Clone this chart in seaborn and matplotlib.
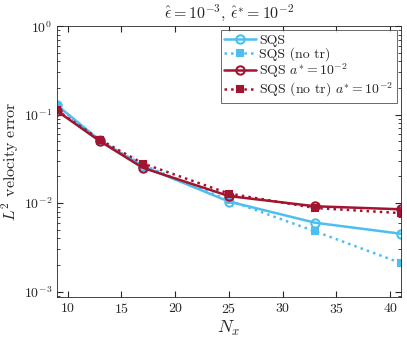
import numpy as np
import pandas as pd
import seaborn as sns
import matplotlib
matplotlib.use("Agg")
import matplotlib.pyplot as plt
from matplotlib.ticker import LogLocator, NullFormatter, FixedLocator

nx = [9, 13, 17, 25, 33, 41]
sqs = [0.128, 0.051, 0.026, 0.0104, 0.0060, 0.0045]
sqs_notr = [0.126, 0.050, 0.027, 0.0107, 0.0048, 0.0021]
sqs_a = [0.110, 0.050, 0.025, 0.0120, 0.0092, 0.0085]
sqs_notr_a = [0.112, 0.052, 0.028, 0.0128, 0.0088, 0.0077]

labels = [
    "SQS",
    "SQS (no tr)",
    r"SQS $a^{*}=10^{-2}$",
    r"SQS (no tr) $a^{*}=10^{-2}$",
]
series = [sqs, sqs_notr, sqs_a, sqs_notr_a]

blue = "#4DBEEE"
red = "#A2142F"
colors = [blue, blue, red, red]
styles = ["-", ":", "-", ":"]
markers = ["o", "s", "o", "s"]

df = pd.concat(
    [pd.DataFrame({"Nx": nx, "err": vals, "label": lab}) for lab, vals in zip(labels, series)]
)

sns.set_style("ticks")
plt.rcParams["font.family"] = "serif"
plt.rcParams["font.serif"] = ["cmr10", "DejaVu Serif"]
plt.rcParams["mathtext.fontset"] = "cm"
plt.rcParams["axes.formatter.use_mathtext"] = True
plt.rcParams["axes.unicode_minus"] = False

fig, ax = plt.subplots(figsize=(4.07, 3.44), dpi=100)

for lab, col, ls, mk in zip(labels, colors, styles, markers):
    sub = df[df["label"] == lab]
    sns.lineplot(
        data=sub, x="Nx", y="err", ax=ax, color=col, linestyle=ls, linewidth=1.8,
        marker=mk, markersize=6 if mk == "o" else 5,
        markerfacecolor="none" if mk == "o" else col,
        markeredgecolor=col, markeredgewidth=1.5, label=lab,
    )

ax.set_yscale("log")
ax.set_xlim(9, 41)
ax.set_ylim(8.7e-4, 1)
ax.xaxis.set_major_locator(FixedLocator([10, 15, 20, 25, 30, 35, 40]))
ax.yaxis.set_major_locator(LogLocator(base=10, numticks=10))
ax.yaxis.set_minor_locator(LogLocator(base=10, subs=np.arange(2, 10), numticks=10))
ax.yaxis.set_minor_formatter(NullFormatter())
ax.tick_params(which="both", direction="in", top=True, right=True, labelsize=10, colors="#262626")
ax.tick_params(which="major", length=4)
ax.tick_params(which="minor", length=2)
for sp in ax.spines.values():
    sp.set_color("#262626")
    sp.set_linewidth(0.6)

ax.set_xlabel(r"$N_x$", fontsize=13, labelpad=2)
ax.set_ylabel(r"$L^2$ velocity error", fontsize=11.5, labelpad=2)
ax.set_title(r"$\hat{\epsilon}=10^{-3}$, $\hat{\epsilon}^{*}=10^{-2}$", fontsize=11.5)

leg = ax.legend(loc="upper right", fontsize=10, frameon=True, fancybox=False,
                handlelength=2.3, borderpad=0.25, labelspacing=0.05, handletextpad=0.2,
                borderaxespad=0.3)
leg.get_frame().set_edgecolor("#262626")
leg.get_frame().set_linewidth(0.6)

fig.subplots_adjust(left=0.14, right=0.985, top=0.924, bottom=0.137)
fig.savefig("out.png", dpi=100)
